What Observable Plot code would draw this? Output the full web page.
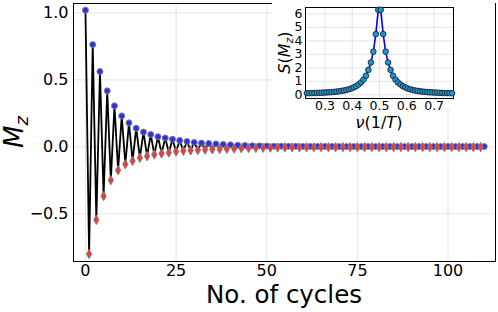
<!DOCTYPE html>
<html><head><meta charset="utf-8">
<script src="https://cdn.jsdelivr.net/npm/d3@7"></script>
<script src="https://cdn.jsdelivr.net/npm/@observablehq/plot@0.6"></script>
<style>
html,body{margin:0;padding:0;background:#fff;}
#chart{position:relative;width:498px;height:312px;font-family:"DejaVu Sans",sans-serif;}
#inset{position:absolute;left:272px;top:3px;}
</style></head><body><div id="chart"></div>
<script>
// Main series: magnetization vs cycle number
const cycles = d3.range(0, 111);
const mz = [1.02,-0.80,0.763,-0.545,0.562,-0.368,0.418,-0.249,0.306,-0.175,
0.231,-0.130,0.179,-0.105,0.139,-0.082,0.110,-0.070,0.092,-0.057,
0.076,-0.050,0.066,-0.043,0.057,-0.035,0.048,-0.030,0.040,-0.027,
0.033,-0.024,0.028,-0.021,0.025,-0.019,0.022,-0.017,0.018,-0.015,
0.015,-0.013,0.012,-0.011,0.010,-0.009,0.008,-0.008,0.007,-0.007,
0.006,-0.006,0.005,-0.005,0.005,-0.004,0.004,-0.004,0.004,-0.004,
0.003,-0.003,0.003,-0.003,0.003,-0.003,0.003,-0.003,0.003,-0.003,
0.002,-0.002,0.002,-0.002,0.002,-0.002,0.002,-0.002,0.002,-0.002,
0.002,-0.002,0.002,-0.002,0.002,-0.002,0.002,-0.002,0.002,-0.002,
0.002,-0.002,0.002,-0.002,0.002,-0.002,0.002,-0.002,0.002,-0.002,
0.002,-0.002,0.002,-0.002,0.002,-0.002,0.002,-0.002,0.002,-0.002,
0.002];
const xTicks = [0, 25, 50, 75, 100];
const yTicks = [-0.5, 0, 0.5, 1.0];

// Inset: spectrum S(Mz) vs frequency
const nu = [0.2342,0.2432,0.2523,0.2613,0.2703,0.2793,0.2883,0.2973,0.3063,0.3153,
0.3243,0.3333,0.3423,0.3514,0.3604,0.3694,0.3784,0.3874,0.3964,0.4054,
0.4144,0.4234,0.4324,0.4414,0.4505,0.4595,0.4685,0.4775,0.4865,0.4955,
0.5045,0.5135,0.5225,0.5315,0.5405,0.5495,0.5586,0.5676,0.5766,0.5856,
0.5946,0.6036,0.6126,0.6216,0.6306,0.6396,0.6486,0.6577,0.6667,0.6757,
0.6847,0.6937,0.7027,0.7117,0.7207,0.7297,0.7387,0.7477,0.7568,0.7658];
const sMz = [0.12,0.125,0.13,0.135,0.14,0.15,0.16,0.17,0.18,0.19,
0.20,0.22,0.24,0.26,0.29,0.32,0.36,0.41,0.47,0.55,
0.64,0.77,0.92,1.13,1.42,1.85,2.4,3.2,4.5,6.3,
6.3,4.5,3.2,2.4,1.85,1.42,1.13,0.92,0.77,0.64,
0.55,0.47,0.41,0.36,0.32,0.29,0.26,0.24,0.22,0.20,
0.19,0.18,0.17,0.16,0.15,0.14,0.135,0.13,0.125,0.12];
const nuTicks = [0.3, 0.4, 0.5, 0.6, 0.7];
const sTicks = [0, 1, 2, 3, 4, 5, 6];

const rows = cycles.map((c, i) => ({c, m: mz[i]}));
const evenRows = rows.filter(d => d.c % 2 === 0);
const oddRows = rows.filter(d => d.c % 2 === 1);
const spec = nu.map((v, i) => ({nu: v, s: sMz[i]}));

const main = Plot.plot({
  width: 498, height: 312,
  marginLeft: 73, marginRight: 3, marginTop: 3, marginBottom: 51,
  style: {fontFamily: "DejaVu Sans", fontSize: "16px", background: "white", color: "black"},
  x: {domain: [-3.3, 113.1], ticks: xTicks, grid: true, label: null, tickSize: 0, tickPadding: 3},
  y: {domain: [-0.856, 1.07], ticks: yTicks, grid: true, label: null, tickSize: 0, tickPadding: 5, tickFormat: d3.format(".1f")},
  marks: [
    Plot.frame({stroke: "black", strokeWidth: 1}),
    Plot.line(rows, {x: "c", y: "m", stroke: "black", strokeWidth: 1.8}),
    Plot.dot(evenRows, {x: "c", y: "m", r: 3, fill: "#2d2df0", stroke: "#808080", strokeWidth: 1}),
    Plot.dot(oddRows, {x: "c", y: "m", r: 2.8, symbol: "diamond", fill: "#f03a3a", stroke: "#808080", strokeWidth: 1})
  ]
});

const inset = Plot.plot({
  width: 223, height: 105,
  marginLeft: 33, marginRight: 42, marginTop: 4, marginBottom: 10,
  style: {fontFamily: "DejaVu Sans", fontSize: "12.5px", background: "white", color: "black", overflow: "visible"},
  x: {domain: [0.229, 0.771], ticks: nuTicks, grid: true, label: null, tickSize: 0, tickPadding: 3, tickFormat: d3.format(".1f")},
  y: {domain: [-0.27, 6.47], ticks: sTicks, grid: true, label: null, tickSize: 0, tickPadding: 3, tickFormat: d3.format("d")},
  marks: [
    Plot.frame({stroke: "black", strokeWidth: 1}),
    Plot.line(spec, {x: "nu", y: "s", stroke: "#0000ff", strokeWidth: 1.6}),
    Plot.dot(spec, {x: "nu", y: "s", r: 2.8, fill: "#1a96dc", stroke: "#222", strokeWidth: 0.9})
  ]
});
inset.id = "inset";

const chart = document.getElementById("chart");
chart.appendChild(main);
chart.appendChild(inset);

// Axis titles (with subscripts) placed from the scale ranges
const mx = main.scale("x").range, my = main.scale("y").range;
const ms = d3.select(main);
ms.append("text")
  .attr("x", (mx[0] + mx[1]) / 2).attr("y", 303)
  .attr("text-anchor", "middle").attr("font-size", 24.5).attr("fill", "black")
  .text("No. of cycles");
const yl = ms.append("text")
  .attr("transform", `translate(23,${(my[0] + my[1]) / 2}) rotate(-90)`)
  .attr("text-anchor", "middle").attr("font-size", 26).attr("fill", "black");
yl.append("tspan").attr("font-style", "italic").text("M");
yl.append("tspan").attr("font-style", "italic").attr("font-size", 18).attr("dy", 5).text("z");

const ix = inset.scale("x").range, iy = inset.scale("y").range;
const is = d3.select(inset);
const xl = is.append("text")
  .attr("x", (ix[0] + ix[1]) / 2).attr("y", 125)
  .attr("text-anchor", "middle").attr("font-size", 16).attr("fill", "black");
xl.append("tspan").attr("font-style", "italic").text("ν");
xl.append("tspan").text("(1/");
xl.append("tspan").attr("font-style", "italic").text("T");
xl.append("tspan").text(")");
const sl = is.append("text")
  .attr("transform", `translate(17.5,${(iy[0] + iy[1]) / 2}) rotate(-90)`)
  .attr("text-anchor", "middle").attr("font-size", 16).attr("fill", "black");
sl.append("tspan").attr("font-style", "italic").text("S");
sl.append("tspan").text("(");
sl.append("tspan").attr("font-style", "italic").text("M");
sl.append("tspan").attr("font-style", "italic").attr("font-size", 11).attr("dy", 3).text("z");
sl.append("tspan").attr("dy", -3).text(")");
</script></body></html>
